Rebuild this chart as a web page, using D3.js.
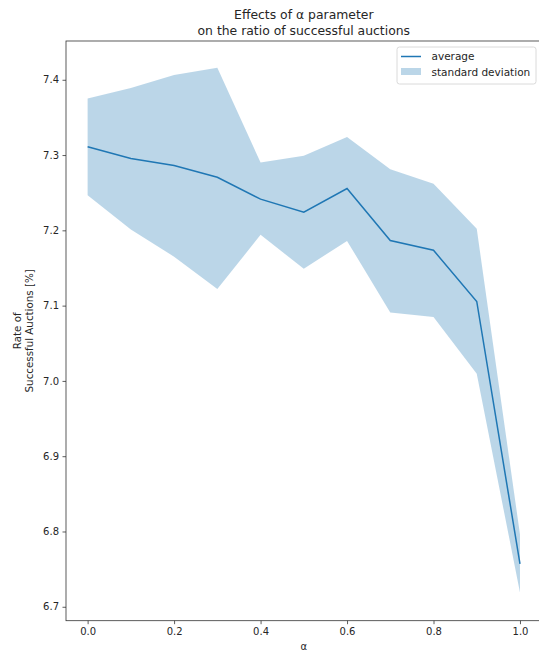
<!DOCTYPE html>
<html><head><meta charset="utf-8">
<script src="https://cdn.jsdelivr.net/npm/d3@7"></script>
<style>body{margin:0;background:#fff}svg{display:block;font-family:"DejaVu Sans",sans-serif}</style>
</head><body>
<svg id="c" width="539" height="653"></svg>
<script>
const alphas = [0.0,0.1,0.2,0.3,0.4,0.5,0.6,0.7,0.8,0.9,1.0];
const average = [7.311,7.2955,7.286,7.2705,7.2415,7.224,7.2555,7.1865,7.1735,7.1055,6.757];
const upper = [7.375,7.389,7.4065,7.416,7.290,7.299,7.324,7.281,7.262,7.202,6.796];
const lower = [7.2465,7.201,7.165,7.122,7.194,7.149,7.186,7.091,7.085,7.0095,6.719];
const xTicks = [0.0,0.2,0.4,0.6,0.8,1.0];
const yTicks = [6.7,6.8,6.9,7.0,7.1,7.2,7.3,7.4];

const svg = d3.select("#c");
const L=66, R=541.6, T=41, B=620.7;
const x = d3.scaleLinear().domain([-0.05,1.05]).range([L,R]);
const y = d3.scaleLinear().domain([6.6815,7.4515]).range([B,T]);
const txt="#262626";

const data = alphas.map((a,i)=>({a,m:average[i],u:upper[i],l:lower[i]}));
svg.append("path").datum(data)
  .attr("d", d3.area().x(d=>x(d.a)).y0(d=>y(d.l)).y1(d=>y(d.u)))
  .attr("fill","#1f77b4").attr("fill-opacity",0.3);
svg.append("path").datum(data)
  .attr("d", d3.line().x(d=>x(d.a)).y(d=>y(d.m)))
  .attr("fill","none").attr("stroke","#1f77b4").attr("stroke-width",1.5);

// axes
const xa = svg.append("g").attr("transform",`translate(0,${B})`)
  .call(d3.axisBottom(x).tickValues(xTicks).tickFormat(d3.format(".1f")).tickSizeOuter(0).tickSize(3.5).tickPadding(3.5));
const ya = svg.append("g").attr("transform",`translate(${L},0)`)
  .call(d3.axisLeft(y).tickValues(yTicks).tickFormat(d3.format(".1f")).tickSizeOuter(0).tickSize(3.5).tickPadding(3.5));
[xa,ya].forEach(g=>{
  g.select(".domain").remove();
  g.selectAll("line").attr("stroke","#333").attr("stroke-width",0.8);
  g.selectAll("text").attr("fill",txt).style("font-size","10px").style("font-family","DejaVu Sans");
});
// spines
svg.append("rect").attr("x",L).attr("y",T).attr("width",R-L).attr("height",B-T)
  .attr("fill","none").attr("stroke","#333").attr("stroke-width",0.8);

// title
const title = svg.append("text").attr("x",(L+R)/2).attr("text-anchor","middle")
  .attr("fill",txt).style("font-size","12.4px");
title.append("tspan").attr("x",(L+R)/2).attr("y",19).text("Effects of α parameter");
title.append("tspan").attr("x",(L+R)/2).attr("y",35).text("on the ratio of successful auctions");

// axis labels
svg.append("text").attr("x",(L+R)/2).attr("y",650).attr("text-anchor","middle")
  .attr("fill",txt).style("font-size","10px").text("α");
const yl = svg.append("text").attr("transform",`translate(0,${(T+B)/2}) rotate(-90)`)
  .attr("text-anchor","middle").attr("fill",txt).style("font-size","10.3px");
yl.append("tspan").attr("x",0).attr("y",21).text("Rate of");
yl.append("tspan").attr("x",0).attr("y",33).text("Successful Auctions [%]");

// legend
const lg = svg.append("g").attr("transform","translate(397,47)");
lg.append("rect").attr("width",139).attr("height",37).attr("rx",2.5)
  .attr("fill","#fff").attr("fill-opacity",0.8).attr("stroke","#d0d0d0").attr("stroke-width",0.8);
lg.append("line").attr("x1",4).attr("x2",24).attr("y1",9.5).attr("y2",9.5)
  .attr("stroke","#1f77b4").attr("stroke-width",1.5);
lg.append("rect").attr("x",4).attr("y",21).attr("width",20).attr("height",7)
  .attr("fill","#1f77b4").attr("fill-opacity",0.3);
lg.append("text").attr("x",34.5).attr("y",13).attr("fill",txt).style("font-size","10.5px").text("average");
lg.append("text").attr("x",34.5).attr("y",29).attr("fill",txt).style("font-size","10.5px").text("standard deviation");
</script>
</body></html>
